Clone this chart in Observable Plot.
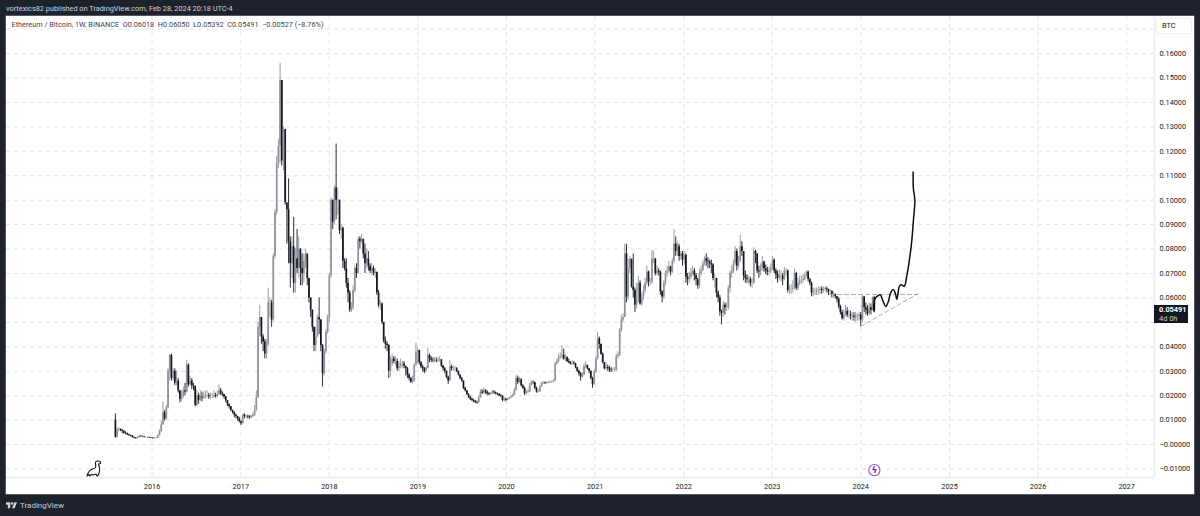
<!DOCTYPE html>
<html><head><meta charset="utf-8">
<script src="https://cdn.jsdelivr.net/npm/d3@7"></script>
<script src="https://cdn.jsdelivr.net/npm/@observablehq/plot@0.6"></script>
<style>
html,body{margin:0;padding:0;background:#1e222d;width:1200px;height:516px;overflow:hidden;font-family:Roboto,sans-serif}
#page{position:relative;width:1200px;height:516px}
#head{position:absolute;left:6px;top:3px;font-size:7.35px;line-height:12px;color:#d1d4dc;white-space:nowrap}
#chart{position:absolute;left:6px;top:16px;width:1188px;height:478px;background:#fff;box-shadow:0 0 0 .5px #8b8e96}
#chart svg{display:block}
#foot{position:absolute;left:20px;top:499px;font-size:8px;line-height:13px;color:#c9cbd2}
#logo{position:absolute;left:6px;top:502px}
.ov{position:absolute}
#tag{left:1148px;width:34px;height:18px;background:#131722;color:#fff;font-size:7.4px;line-height:8.4px;padding-top:1px;box-sizing:border-box;padding-left:5px;font-weight:700}
#tag span{display:block;color:#c9cbd2;font-weight:400}
#btc{left:1150px;top:2px;width:36px;height:16px;border:1px solid #eceef2;border-radius:3px;box-sizing:border-box;font-size:7.4px;line-height:14px;color:#131722;padding-left:5px}
</style></head><body>
<div id="page">
<div id="head">vortexics82 published on TradingView.com, Feb 28, 2024 20:18 UTC-4</div>
<div id="chart"></div>
<svg id="logo" width="11" height="6.5" viewBox="0 0 36 20"><path fill="#d1d4dc" d="M14 20H6V8H0V0h14zM28 20h-8L27.5 0H36z"/><circle cx="20" cy="4" r="4" fill="#d1d4dc"/></svg>
<div id="foot">TradingView</div>
</div>
<script>
// Weekly candles in thousandths of a BTC
const starts = {2015:"2015-08-03",2016:"2016-01-04",2017:"2017-01-02",2018:"2018-01-01",2019:"2019-01-07",2020:"2020-01-06",2021:"2021-01-04",2022:"2022-01-03",2023:"2023-01-02",2024:"2024-01-01"};
const firstOpen = 10;
const close2015=[2.9,6.0,6.2,5.8,5.4,4.6,4.5,4.0,3.7,3.5,2.9,2.6,2.4,2.7,3.4,3.2,3.1,2.9,2.9,2.8,2.7,2.6];
const high2015=[12.6,6.8,6.9,6.4,6.2,5.6,5.2,4.7,4.2,3.9,3.7,3.1,2.9,3.2,3.9,3.7,3.4,3.2,3.1,3.0,3.0,2.9];
const low2015=[2.6,2.7,5.3,5.3,4.4,4.2,4.0,3.6,3.3,3.1,2.6,2.3,2.2,2.3,2.6,3.0,2.8,2.7,2.7,2.6,2.5,2.4];
const close2016=[2.5,2.5,2.6,3.6,5.2,8,13,10.5,15,30,36.5,27,30,25,26,22,18.5,19.5,22,21.5,32.5,24.5,26,24,23.7,16,20,18,19.5,19,19.5,20,20,19.5,19.5,19.5,20,19.6,20.5,22,21,20.5,19.5,18,16.5,15.5,14,13,12,11.5,10.5,9.5];
const high2016=[2.9,2.8,2.9,4.0,6,9.5,17.5,14,16,31,36.7,37,31,31,30,27,22,22,23.5,25,34.5,33,28,27,25,24,22,21,22,21.5,21.5,22,22,21,21,21,22,21,22,24.4,23,21.5,20.5,19.5,18,16.5,15.5,14,13.5,12.5,11.5,11];
const low2016=[2.2,2.2,2.3,2.5,3.4,5,8,9.5,10,14.5,26,26,26,24,24,21,17,17.5,19,20,21,23.5,24,22.5,22,15.5,15.5,16.5,17.5,17.5,18.5,18.5,19,18.5,18.5,18.8,19,19,19,20,20,19.5,18.5,17,15.5,14.5,13.5,12.5,11,10.5,9.5,8.8];
const close2017=[8.5,12,11.5,11.5,11.3,11,11.5,12,14,19,48,52,44,42,37,41,58,58,51,77,95,115,122,149,116,129,99,96,83,74,81,66,76,72,80,72,70,75,78,68,60,55,48,40.5,44,52,51,40.5,29,38,46,52];
const high2017=[9,12.5,12.5,12,12,11.8,12,13,16,22,50,57,52,45,43,43,64,60,59,78,96,118,125,156,149,130,116,98,108.7,85,85,93,80,88,85,80,78,78,80,70,68,60,55,48,48,53,60,51,41,39,47,53];
const low2017=[7.8,8.5,10.5,10.5,10.5,10.3,10.5,11,11.5,13.5,19,44,41,38,35,35,40,52,48,50,76,94,113,115,114,112,98,82,74,64,68,62,62,70,68,65,65,66,72,65,58,52,46,38,38,44,45,38,23.5,28,37,45];
const close2018=[69,100,91,105,100,100,87.5,88.5,75,72,66,62,55,56,63,72,70,84,83,84,78,74,76,73,71,72,70,70.5,62,57,57.5,50,42.5,41,40.5,30,33,35,34,34,31,32,33,33,32,31,28.5,27,25.5,26,32.4,37.8,38.5];
const high2018=[70,101,100,106,123,105,100,90,89,76,76,68,63,58,65,73,74,85,85,86,84,82,80,79,74,74,73,72,70.5,63,59,58,50,44,42,41,36,37,36,36,35,34,35,34,34,32,31.5,29,27.5,28,33,41.5,39.5];
const low2018=[50,68,88,90,92,94,86,84,72,71,64,58,54,54,55,62,68,70,80,82,76,70,72,71,70,69,69,68,61,56,55,49,41.5,39,38,27,27.5,32,33,32,30,30,31,31,31,28,27,26,25,25,25.5,32,33];
const close2019=[33.5,31.7,31,30,31,36.5,35,34.5,34.3,34.4,34.2,34.5,34.7,32,31,30,27.5,26,31.7,31,31,31,30,28.5,27,26,23,22,20.5,19.4,18.5,18,17.5,17.2,17,19,21.5,21,22,21.5,20.8,20.5,20.6,21.5,21.2,20.8,20.5,20,19.8,18,18.5,18];
const high2019=[38.5,34,32.5,31.5,32,39.6,37,36,35.5,35.5,35.5,35.5,36,34.7,32.5,31.5,30,28,34.4,32.5,32,32,31.5,30,28.5,27.5,26,23.5,22,20.8,19.8,19,18.5,18,17.8,20,22.5,22.5,23.2,22.5,22,21.2,21.3,22.3,22,21.5,21,20.8,20.5,20,19.2,19];
const low2019=[32.5,31,29.5,29,29.5,31,33.5,33.5,33.5,33.5,33.5,33.5,33.8,31.5,30,29,27,24.6,26,30,30,30,29.5,28,26.5,25.5,22.5,21.5,20,18.8,18,17.5,17,16.8,16.5,17,19,20.5,20.5,20.5,20,20,20,20.5,20.5,20.3,20,19.5,19.2,17.5,17.5,17.5];
const close2020=[18.5,19,19.5,20,22,27,25.5,26.5,24,23,20.8,21.3,21.5,24,25.5,25.4,23,21.5,21.5,23.5,25,25.2,25,25,25.3,25.5,25.5,26,33,34,35.5,36,36.5,35,35.5,34,33.5,33,33.3,33,31.5,30,29,27.6,28.5,32,32.4,31,30,27,24.5,29.6];
const high2020=[19,19.5,20,20.8,23,28.3,28,27.5,27,24.5,23.5,22,22.5,25,26,26,25.5,23.5,22.5,24,25.5,25.7,25.6,25.6,25.8,26,26,26.5,33.5,35,37,37.5,40.5,39,37,36,35,34,34.3,34,33.3,31.5,30.5,29.5,29.5,33,34,32.5,31,30,27.5,30.5];
const low2020=[18,18.5,18.8,19.2,20,22,24.5,25,23.5,22.5,20,20.3,20.8,21.3,24,24.5,22.5,21,21,21.3,23.5,24.5,24.5,24.6,24.8,25,25,25.3,26,32.5,33.5,35,35,34.5,34,33.5,33,32.5,32.5,32.5,31,29.5,28,26,27.2,28,31,30.5,29,26.5,23,24.2];
const close2021=[35,43.3,41,37,33.5,31,31.5,31,30.5,30.3,30.3,30.3,36,36.5,46.7,51,52,78,60.4,72,75.7,64.5,63,57,60,66,57.5,60,63,66,70.6,66.5,66.5,76,76,70,71,70.5,62.5,60.4,66,70,71,72.7,70.6,75,82,79,81,77,78,75.5];
const high2021=[36,46,44,41,37.5,33.5,33.5,32.5,32,31.5,31.3,31.5,37,38,47.5,53,53.5,82,82,76,77,76,78,64,66,69,67,62,65,68,73,71,68,79.5,79,76,73,72,71,63,67,71,73,75,73,76,88,85,83,82,79,79];
const low2021=[29,34.5,39,36.5,33,30.5,30.5,30,29.5,29.5,29.5,29.8,30,35,36,46,50,52,58,59,70,64,60,54,55.5,58,57,56.5,59,62,65,64.5,65,65.5,74,69,69,69,61,58,59.5,65,68.5,70,69,70,74,77,77,75,75.5,73];
const close2022=[77.5,68.6,67.5,68.6,70,71,69,67.5,65,70,71,74,76,75,74.7,74,73.5,68,68,62,60,54.3,53.6,57,56,56,64,70,71,74,79,73,75,81,79,69,68,67.5,67.5,66,66,79,78,71,70.6,72,74.7,72,71,70.5,71,72];
const high2022=[79,78,70,70.5,72,73,72,70,68,72,73,75,77,78,76.5,75.5,75.5,74,70,68,63,61,55,58.5,58,58,65,71,73,75.5,81,80,77,85.6,83,79,71,69.5,69,68.5,68,80.5,79.5,78,73,74,77,75,73.5,72.5,72.5,74];
const low2022=[73.5,66,65,66,67.5,69,67,65,63.5,64,69,71,73,73,72,72,70,67,64,60,58,52.5,49,52,53,54.5,55,62,68,70,73,71,72,74.5,77,67,66,66,65.5,64.5,64,65.5,74,70,68,69,71,70.5,69.5,69,69,70];
const close2023=[75.4,71,69.5,68,69,69,67.5,71,71,63,63.5,63.5,64,70,64,66,67,67,67.5,69,70.6,67.5,66,62,62.5,62.5,63,63,63.5,63,63.5,63.8,63.5,62.5,62.5,61.5,61.5,60.5,59.5,56.5,54,51.5,53,54.5,53,53,52.5,52.5,52,52.5,52.5,53];
const high2023=[77,76,72,71,71.5,71,70,72.5,72,71.5,65,65.5,67,72,70.5,68,69,69,69.5,70,71,71,68,66.5,64,64,64,64.5,64.5,64.5,64.5,64.5,64.5,63.5,63.5,63,62.5,61.5,60.5,60,57,55,55,57,56,55,54.5,54,54,54,53.5,54];
const low2023=[71.5,70,67.5,66,67,66.5,65,67,69,62,61.5,61.5,62,63.5,63,63,65,65.5,66,67,68.5,66.5,65,60.5,60.5,61,61,61,61.5,61.5,62,62.5,62,61,61,60,60,59.5,58,55.5,53,51,50.5,52.5,52,51.5,51,50.5,50.5,50,50.5,50.5];
const close2024=[51,60.4,56,55,53.5,56,55,60.18,54.91];
const high2024=[54,61,60.5,58,57,58,57.5,60.5,60.5];
const low2024=[48.4,50,54,53,52.5,53,53,54.5,53.92];

// Hand-drawn projection curve
const pathDates=["2024-02-24","2024-02-28","2024-03-08","2024-03-21","2024-04-01","2024-04-13","2024-04-23","2024-05-04","2024-05-15","2024-05-23","2024-05-29","2024-06-07","2024-06-14","2024-06-28","2024-07-09","2024-07-18","2024-07-28","2024-08-05","2024-08-11","2024-08-05","2024-08-04"];
const pathValues=[54.8,59.6,60.6,61.3,58.9,56.5,58.3,62.3,63.4,61.7,59.4,64.4,65.4,64.8,69.2,74.6,82.1,91.7,99.9,104.7,111.5];

// Dashed triangle drawing
const topLineDates=["2023-09-27","2024-08-23"], topLineValues=[61.4,61.4];
const lowLineDates=["2024-01-01","2024-08-23"], lowLineValues=[48.3,61.7];

const priceTicks=[0.16,0.15,0.14,0.13,0.12,0.11,0.10,0.09,0.08,0.07,0.06,0.05,0.04,0.03,0.02,0.01,0,-0.01];
const labelTicks=[0.16,0.15,0.14,0.13,0.12,0.11,0.10,0.09,0.08,0.07,0.06,0.04,0.03,0.02,0.01,0,-0.01];
const gridOnlyTicks=[0.17];
const yearTicks=[2016,2017,2018,2019,2020,2021,2022,2023,2024,2025,2026,2027];
const legendText="Ethereum / Bitcoin, 1W, BINANCE\u00a0\u00a0O0.06018\u00a0\u00a0H0.06050\u00a0\u00a0L0.05392\u00a0\u00a0C0.05491\u00a0\u00a0−0.00527 (−8.76%)";
const lastPrice=0.05491, lastLabel="0.05491", countdown="4d 0h";
const eventDate="2024-02-26", eventValue=-0.0105;

const years={2015:[close2015,high2015,low2015],2016:[close2016,high2016,low2016],2017:[close2017,high2017,low2017],2018:[close2018,high2018,low2018],2019:[close2019,high2019,low2019],2020:[close2020,high2020,low2020],2021:[close2021,high2021,low2021],2022:[close2022,high2022,low2022],2023:[close2023,high2023,low2023],2024:[close2024,high2024,low2024]};
const UP="#8f929a", DOWN="#131722";
const candles=[]; let prev=firstOpen;
for(const y of Object.keys(years)){
  const [c,h,l]=years[y]; const s=new Date(starts[y]+"T00:00:00Z");
  c.forEach((v,i)=>{const o=prev;candles.push({date:d3.utcWeek.offset(s,i),o:o/1000,c:v/1000,h:h[i]/1000,l:l[i]/1000,color:v>=o?UP:DOWN});prev=v;});
}
const toDate=s=>new Date(s+"T00:00:00Z");
const path=pathDates.map((d,i)=>({date:toDate(d),v:pathValues[i]/1000}));
const topLine=topLineDates.map((d,i)=>({date:toDate(d),v:topLineValues[i]/1000}));
const lowLine=lowLineDates.map((d,i)=>({date:toDate(d),v:lowLineValues[i]/1000}));
const yearDates=yearTicks.map(y=>new Date(Date.UTC(y,0,1)));
const GRID="#e2e4ea", dash="4,4";
const chart=Plot.plot({
  width:1188,height:478,marginLeft:0,marginTop:0,marginRight:40,marginBottom:17,
  style:{background:"#fff",fontFamily:"Roboto,sans-serif",fontSize:"7.3px",color:"#131722"},
  x:{type:"utc",domain:[new Date(Date.UTC(2014,4,11)),new Date(Date.UTC(2027,3,26))],axis:null},
  y:{domain:[-0.0135,0.1752],axis:null},
  marks:[
    Plot.gridY([...priceTicks,...gridOnlyTicks],{stroke:GRID,strokeOpacity:1,strokeDasharray:dash}),
    Plot.gridX(yearDates,{stroke:GRID,strokeOpacity:1,strokeDasharray:dash}),
    Plot.ruleX([new Date(Date.UTC(2027,3,26))],{stroke:"#eceef2",strokeWidth:1.5}),
    Plot.ruleY([-0.0135],{stroke:"#eceef2",strokeWidth:2}),
    Plot.line(topLine,{x:"date",y:"v",stroke:"#9598a1",strokeWidth:.8,strokeDasharray:"4,3"}),
    Plot.line(lowLine,{x:"date",y:"v",stroke:"#9598a1",strokeWidth:.8,strokeDasharray:"4,3"}),
    Plot.ruleX(candles,{x:"date",y1:"l",y2:"h",stroke:d=>d.color,strokeWidth:.9}),
    Plot.ruleX(candles,{x:"date",y1:"o",y2:"c",stroke:d=>d.color,strokeWidth:1.7}),
    Plot.line(path,{x:"date",y:"v",curve:"catmull-rom",stroke:"#0b0e14",strokeWidth:1.5}),
    Plot.axisY(labelTicks,{anchor:"right",tickSize:0,tickPadding:5,label:null,fill:"#131722",fontSize:7.3,tickFormat:d=>(d<=0?"−":"")+Math.abs(d).toFixed(5)}),
    Plot.axisX(yearDates,{anchor:"bottom",tickSize:0,tickPadding:6,label:null,fill:"#131722",fontSize:7.3,tickFormat:d=>d3.utcFormat("%Y")(d)}),
    Plot.text([legendText],{frameAnchor:"top-left",dx:5,dy:5.5,fill:"#3f424c",fontSize:7.3}),
    Plot.dot([{date:toDate(eventDate),v:eventValue}],{x:"date",y:"v",r:5.6,stroke:"#ab47bc",strokeWidth:1.1,fill:"#fff"}),
    Plot.text([{date:toDate(eventDate),v:eventValue}],{x:"date",y:"v",text:()=>"ϟ",fill:"#7b1fa2",fontSize:9,fontWeight:700,fontFamily:"DejaVu Sans"})
  ]
});
const host=document.getElementById("chart");
host.appendChild(chart);
const tag=document.createElement("div");tag.id="tag";tag.className="ov";
tag.style.top=(chart.scale("y").apply(lastPrice)-4.5)+"px";
tag.innerHTML=lastLabel+"<span>"+countdown+"</span>";
host.appendChild(tag);
const btc=document.createElement("div");btc.id="btc";btc.className="ov";btc.textContent="BTC";host.appendChild(btc);
const dino=document.createElementNS("http://www.w3.org/2000/svg","svg");
dino.setAttribute("width","16");dino.setAttribute("height","17");dino.setAttribute("viewBox","0 0 16 17");
dino.setAttribute("style","position:absolute;left:80px;top:444px");
dino.innerHTML='<path d="M1 16 C2 12 5 9 8 8.5 C10 8 10 6 9.5 4 C9 2 10 1 12 1 C14 1 15 2 14.5 3.5 L12.5 4 C13.5 7 14 11 13 13 C12.5 15 12 16 11 16 L10 14 C8 15 6 15 5 14.5 L4 16 L3 14.5 Z" fill="#fff" stroke="#131722" stroke-width="1.1" stroke-linejoin="round"/>';
host.appendChild(dino);
</script>
</body></html>
